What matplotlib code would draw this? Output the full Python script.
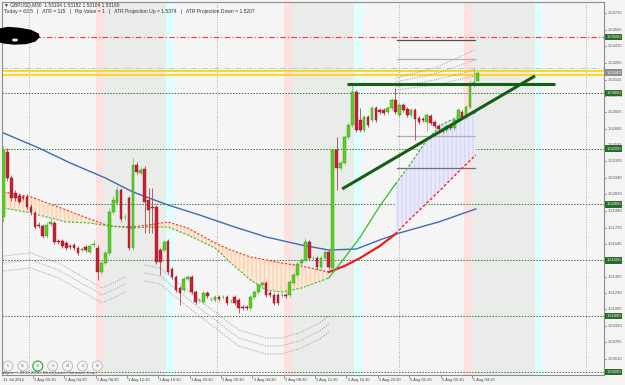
import matplotlib
matplotlib.use("Agg")
import matplotlib.pyplot as plt
import matplotlib.transforms as mtransforms
from matplotlib.patches import Polygon, Ellipse
import numpy as np

plt.rcParams['font.family'] = ['Liberation Sans', 'DejaVu Sans']

# ---- M30 candles, bar 0 is the leftmost one ----
opens = [1.51888, 1.52470, 1.52237, 1.52103, 1.52076, 1.52067, 1.52067, 1.51977, 1.51924, 1.51816,
         1.51807, 1.51718, 1.51825, 1.51834, 1.51673, 1.51673, 1.51655, 1.51628, 1.51637, 1.51610,
         1.51592, 1.51619, 1.51574, 1.51637, 1.51610, 1.51395, 1.51476, 1.51565, 1.51933, 1.52013,
         1.52130, 1.51888, 1.52058, 1.51610, 1.52354, 1.52282, 1.52318, 1.52040, 1.51977, 1.51977,
         1.51592, 1.51592, 1.51673, 1.51422, 1.51351, 1.51252, 1.51234, 1.51333, 1.51351, 1.51216,
         1.51145, 1.51127, 1.51207, 1.51154, 1.51145, 1.51171, 1.51171, 1.51171, 1.51136, 1.51171,
         1.51145, 1.51082, 1.51082, 1.51073, 1.51171, 1.51216, 1.51279, 1.51297, 1.51207, 1.51189,
         1.51189, 1.51189, 1.51189, 1.51189, 1.51297, 1.51368, 1.51476, 1.51503, 1.51664, 1.51521,
         1.51521, 1.51440, 1.51521, 1.51574, 1.51431, 1.52488, 1.52327, 1.52372, 1.52604, 1.52712,
         1.53007, 1.52757, 1.52667, 1.52784, 1.52757, 1.52864, 1.52846, 1.52846, 1.52828, 1.52864,
         1.52936, 1.52801, 1.52891, 1.52855, 1.52801, 1.52846, 1.52775, 1.52766, 1.52739, 1.52792,
         1.52739, 1.52703, 1.52676, 1.52667, 1.52703, 1.52685, 1.52757, 1.52828, 1.52784, 1.52873,
         1.53070, 1.53104]
closes = [1.52488, 1.52237, 1.52058, 1.52058, 1.52022, 1.52058, 1.51977, 1.51933, 1.51798, 1.51807,
          1.51718, 1.51816, 1.51843, 1.51664, 1.51664, 1.51628, 1.51610, 1.51619, 1.51610, 1.51565,
          1.51601, 1.51592, 1.51628, 1.51646, 1.51395, 1.51476, 1.51565, 1.51933, 1.52040, 1.52130,
          1.51870, 1.51888, 1.51610, 1.52354, 1.52291, 1.52309, 1.52022, 1.51951, 1.51969, 1.51485,
          1.51485, 1.51664, 1.51395, 1.51351, 1.51234, 1.51207, 1.51333, 1.51351, 1.51216, 1.51127,
          1.51145, 1.51207, 1.51180, 1.51154, 1.51171, 1.51154, 1.51171, 1.51118, 1.51136, 1.51118,
          1.51073, 1.51073, 1.51073, 1.51171, 1.51216, 1.51279, 1.51297, 1.51189, 1.51189, 1.51118,
          1.51118, 1.51189, 1.51180, 1.51306, 1.51368, 1.51467, 1.51503, 1.51664, 1.51521, 1.51521,
          1.51440, 1.51521, 1.51574, 1.51440, 1.52488, 1.52327, 1.52372, 1.52604, 1.52712, 1.53007,
          1.52667, 1.52667, 1.52784, 1.52712, 1.52864, 1.52757, 1.52828, 1.52819, 1.52864, 1.52936,
          1.52828, 1.52891, 1.52846, 1.52801, 1.52846, 1.52766, 1.52739, 1.52757, 1.52801, 1.52730,
          1.52703, 1.52676, 1.52658, 1.52703, 1.52685, 1.52757, 1.52846, 1.52784, 1.52873, 1.53070,
          1.53097, 1.53180]
highs = [1.52524, 1.52506, 1.52264, 1.52130, 1.52103, 1.52085, 1.52094, 1.52004, 1.51942, 1.51843,
         1.51825, 1.51843, 1.51879, 1.51852, 1.51691, 1.51691, 1.51673, 1.51646, 1.51655, 1.51628,
         1.51619, 1.51637, 1.51646, 1.51682, 1.51637, 1.51494, 1.51592, 1.51969, 1.52076, 1.52166,
         1.52148, 1.51915, 1.52076, 1.52416, 1.52381, 1.52336, 1.52345, 1.52148, 1.52148, 1.51995,
         1.51610, 1.51682, 1.51691, 1.51440, 1.51368, 1.51270, 1.51351, 1.51368, 1.51368, 1.51234,
         1.51162, 1.51225, 1.51225, 1.51171, 1.51189, 1.51189, 1.51189, 1.51189, 1.51154, 1.51189,
         1.51162, 1.51100, 1.51100, 1.51189, 1.51234, 1.51297, 1.51315, 1.51315, 1.51225, 1.51207,
         1.51207, 1.51207, 1.51207, 1.51324, 1.51386, 1.51485, 1.51521, 1.51700, 1.51682, 1.51539,
         1.51539, 1.51539, 1.51592, 1.51592, 1.52506, 1.52604, 1.52389, 1.52622, 1.52730, 1.53070,
         1.53025, 1.52864, 1.52801, 1.52801, 1.52882, 1.52882, 1.52864, 1.52864, 1.52882, 1.52954,
         1.53043, 1.52909, 1.52909, 1.52873, 1.52864, 1.52864, 1.52792, 1.52784, 1.52819, 1.52810,
         1.52757, 1.52721, 1.52694, 1.52721, 1.52721, 1.52775, 1.52864, 1.52846, 1.52891, 1.53115,
         1.53222, 1.53182]
lows = [1.51843, 1.52210, 1.52031, 1.52031, 1.52004, 1.52040, 1.51960, 1.51906, 1.51780, 1.51789,
        1.51700, 1.51700, 1.51807, 1.51646, 1.51646, 1.51610, 1.51592, 1.51601, 1.51592, 1.51548,
        1.51574, 1.51574, 1.51556, 1.51619, 1.51324, 1.51377, 1.51458, 1.51548, 1.51915, 1.51995,
        1.51852, 1.51861, 1.51592, 1.51592, 1.52273, 1.52264, 1.51745, 1.51745, 1.51745, 1.51467,
        1.51368, 1.51574, 1.51377, 1.51333, 1.51216, 1.51100, 1.51216, 1.51315, 1.51198, 1.51109,
        1.51127, 1.51109, 1.51162, 1.51136, 1.51127, 1.51136, 1.51154, 1.51100, 1.51118, 1.51100,
        1.51028, 1.51055, 1.51055, 1.51055, 1.51154, 1.51198, 1.51261, 1.51171, 1.51171, 1.51100,
        1.51100, 1.51171, 1.51162, 1.51171, 1.51279, 1.51351, 1.51458, 1.51485, 1.51503, 1.51503,
        1.51422, 1.51422, 1.51503, 1.51422, 1.51413, 1.52130, 1.52309, 1.52354, 1.52587, 1.52694,
        1.52649, 1.52649, 1.52649, 1.52694, 1.52739, 1.52739, 1.52810, 1.52801, 1.52810, 1.52846,
        1.52810, 1.52784, 1.52828, 1.52784, 1.52784, 1.52578, 1.52721, 1.52739, 1.52658, 1.52712,
        1.52685, 1.52658, 1.52640, 1.52649, 1.52667, 1.52667, 1.52739, 1.52766, 1.52766, 1.52855,
        1.53052, 1.53104]

# ---- indicators (read at a few bars, joined by straight segments) ----
ma_bars = [0, 9, 17, 26, 33, 42, 50, 59, 67, 76, 83, 90, 96, 101, 111, 120.5]
ma_long = [1.52640, 1.52506, 1.52372, 1.52237, 1.52112, 1.51995, 1.51906, 1.51798, 1.51709, 1.51637,
           1.51592, 1.51601, 1.51682, 1.51745, 1.51843, 1.51960]

cloud_bars = [0, 7, 16, 22, 27, 33, 37, 42, 47, 54, 58, 63, 67, 71, 76, 83, 87, 91, 96, 100,
              104, 108, 112, 116, 120.5]
slow_line = [1.52112, 1.52067, 1.51951, 1.51870, 1.51807, 1.51798, 1.51816, 1.51843, 1.51789, 1.51655,
             1.51592, 1.51530, 1.51503, 1.51476, 1.51449, 1.51395, 1.51449, 1.51521, 1.51628, 1.51736,
             1.51879, 1.52013, 1.52148, 1.52291, 1.52443]
fast_line = [1.51969, 1.51924, 1.51843, 1.51834, 1.51807, 1.51789, 1.51798, 1.51798, 1.51727, 1.51610,
             1.51476, 1.51324, 1.51234, 1.51216, 1.51252, 1.51342, 1.51521, 1.51709, 1.51986, 1.52183,
             1.52372, 1.52578, 1.52721, 1.52784, 1.52819]

band1_bars = [0, 7, 14, 23, 25, 28, 31]
band1 = [[1.51539, 1.51565, 1.51476, 1.51297, 1.51252, 1.51297, 1.51351],
         [1.51476, 1.51503, 1.51413, 1.51234, 1.51189, 1.51234, 1.51288],
         [1.51404, 1.51431, 1.51342, 1.51162, 1.51118, 1.51162, 1.51216]]
band2_bars = [36, 40, 43, 50, 55, 60, 67, 71, 76, 81, 83]
band2 = [[1.51458, 1.51431, 1.51342, 1.51145, 1.51010, 1.50876, 1.50804, 1.50804, 1.50858, 1.50948, 1.51001],
         [1.51386, 1.51360, 1.51270, 1.51073, 1.50939, 1.50804, 1.50733, 1.50733, 1.50786, 1.50876, 1.50930],
         [1.51315, 1.51288, 1.51198, 1.51001, 1.50867, 1.50733, 1.50661, 1.50661, 1.50715, 1.50804, 1.50858]]
band3_bars = [100, 110, 120.3]
band3 = [[1.53133, 1.53222, 1.53384],
         [1.53097, 1.53169, 1.53294],
         [1.53052, 1.53115, 1.53204],
         [1.53025, 1.53070, 1.53151]]

atr_levels = [1.53473, 1.53303, 1.52613, 1.52327]
atr_span = [100.4, 120.3]

round_levels = [1.53000, 1.52500, 1.52000, 1.51500, 1.51000, 1.50500]
box_levels = [1.53500, 1.53000, 1.52500, 1.52000, 1.51500, 1.51000, 1.50500]
red_level = 1.53500
pale_level = 1.53222
yellow_levels = [1.53197, 1.53163]
last_price = 1.53180

trend_h_bars, trend_h = [87.6, 140.7], [1.53079, 1.53079]
trend_d_bars, trend_d = [86.4, 135.6], [1.52139, 1.53151]

# sessions, in bar units
pink_zones = [(23.5, 25.5), (71.5, 73.5), (117.5, 119.5)]
green_zones = [(25.5, 41.5), (73.5, 89.5), (119.5, 135.5)]
cyan_zones = [(41.5, 43.5), (89.5, 91.5), (135.5, 137.5)]
grid_bars = [6.5, 54.5, 101, 148.5]

price_ticks = [1.53715, 1.53565, 1.53415, 1.53265, 1.53115, 1.52970, 1.52825, 1.52680, 1.52535,
               1.52390, 1.52240, 1.52090, 1.51940, 1.51790, 1.51645, 1.51355, 1.51210, 1.51065,
               1.50915, 1.50765, 1.50615]
time_bars = [8, 16, 24, 32, 40, 48, 56, 64, 72, 80, 88, 96, 104, 112, 120]
time_labels = ["1 Aug 00:30", "1 Aug 04:30", "1 Aug 08:30", "1 Aug 12:30", "1 Aug 16:30",
               "1 Aug 20:30", "2 Aug 00:30", "2 Aug 04:30", "2 Aug 08:30", "2 Aug 12:30",
               "2 Aug 16:30", "2 Aug 20:30", "5 Aug 01:30", "5 Aug 05:30", "5 Aug 09:30"]
periods = ["5", "15", "30", "H", "H4", "D", "W"]

W, H = 625, 385
fig = plt.figure(figsize=(W / 100, H / 100), dpi=100, facecolor='#f4f4f4')
ax = fig.add_axes([2 / W, 10 / H, 602 / W, 373 / H])
ax.set_facecolor('#f5f5f5')
ax.set_xlim(-0.38, 153.2)
ax.set_ylim(1.50473, 1.53813)
ax.set_xticks([])
ax.set_yticks([])
for s in ax.spines.values():
    s.set_color('#8c8c8c')
    s.set_linewidth(0.8)

for a, b in pink_zones:
    ax.axvspan(a, b, color='#ffe0e0', lw=0, zorder=0)
for a, b in green_zones:
    ax.axvspan(a, b, color='#e9ece9', lw=0, zorder=0)
for a, b in cyan_zones:
    ax.axvspan(a, b, color='#e0ffff', lw=0, zorder=0)
for g in grid_bars:
    ax.axvline(g, color='#8f8f8f', lw=0.6, ls=(0, (1, 2)), zorder=1)

for lv in round_levels:
    ax.axhline(lv, color='#2f7a2f', lw=0.7, ls=(0, (1.5, 1.5)), zorder=1)
ax.axhline(red_level, color='#ff3333', lw=0.8, ls=(0, (5, 2, 1, 2)), zorder=2)
ax.axhline(pale_level, color='#a8dca8', lw=0.8, ls=(0, (5, 2, 1, 2)), zorder=2)
for lv in yellow_levels:
    ax.axhline(lv, color='#ffd21a', lw=1.3, zorder=2)

# cloud between the two averages
cb = np.array(cloud_bars)
sl = np.array(slow_line)
fl = np.array(fast_line)
ax.fill_between(cb[:16], sl[:16], fl[:16], where=sl[:16] >= fl[:16], interpolate=True,
                facecolor='#fde9d8', edgecolor='#fad3ae', hatch='||||', lw=0, zorder=1)
ax.fill_between(cb[19:], fl[19:], sl[19:], facecolor='#e9e9fb', edgecolor='#d6d6f5',
                hatch='||||', lw=0, zorder=1)

ax.plot(ma_bars, ma_long, color='#3a6eb4', lw=1.0, zorder=3)
ax.plot(cb[:16], sl[:16], color='#ff2a2a', lw=0.8, ls=(0, (2, 1.5)), zorder=3)
ax.plot(cb[15:20], sl[15:20], color='#ee1c1c', lw=1.6, zorder=3)
ax.plot(cb[19:], sl[19:], color='#ff2020', lw=1.0, ls=(0, (2, 1.5)), zorder=3)
ax.plot(cb[:16], fl[:16], color='#33bb33', lw=0.8, ls=(0, (2, 1.5)), zorder=3)
ax.plot(cb[15:20], fl[15:20], color='#2fbf2f', lw=0.9, zorder=3)
ax.plot(cb[19:], fl[19:], color='#2fbf2f', lw=0.9, ls=(0, (2, 1.5)), zorder=3)

for bars, group in ((band1_bars, band1), (band2_bars, band2), (band3_bars, band3)):
    for curve in group:
        ax.plot(bars, curve, color='#9a9a9a', lw=0.7, ls=(0, (1, 1.5)), zorder=2)

atr_colors = ['#505050', '#b0b0b0', '#b0b0b0', '#707070']
for lv, col in zip(atr_levels, atr_colors):
    ax.plot(atr_span, [lv, lv], color=col, lw=0.9, zorder=2)

# candles
x = np.arange(len(closes))
o = np.array(opens)
c = np.array(closes)
up = c >= o
body_col = np.where(up, '#5ed11e', '#cc1f33')
edge_col = np.where(up, '#2b8a1c', '#8c1420')
wick_col = np.where(up, '#7fbf6a', '#b04050')
ax.vlines(x, lows, highs, colors=wick_col, lw=0.6, zorder=4)
ax.bar(x, np.maximum(np.abs(c - o), 0.00004), bottom=np.minimum(o, c), width=0.68,
       color=body_col, edgecolor=edge_col, lw=0.3, zorder=5)

ax.plot(trend_h_bars, trend_h, color='#155e15', lw=2.2, solid_capstyle='butt', zorder=6)
ax.plot(trend_d_bars, trend_d, color='#155e15', lw=2.2, solid_capstyle='butt', zorder=6)

# price scale
ty = mtransforms.blended_transform_factory(ax.transAxes, ax.transData)
for p in price_ticks:
    ax.plot([1.0, 1.004], [p, p], color='#777777', lw=0.5, transform=ty, clip_on=False)
    ax.text(1.007, p, f"{p:.5f}", transform=ty, fontsize=3, va='center', ha='left', color='#555555')
for p in box_levels:
    ax.text(1.004, p, f"{p:.5f}", transform=ty, fontsize=3, va='center', ha='left', color='white',
            bbox=dict(boxstyle='square,pad=0.3', fc='#2a6a2a', ec='none'))
ax.text(1.004, last_price, f"{last_price:.5f}", transform=ty, fontsize=3, va='center', ha='left',
        color='white', bbox=dict(boxstyle='square,pad=0.3', fc='#8e8e8e', ec='none'))

# time scale
tx = mtransforms.blended_transform_factory(ax.transData, ax.transAxes)
ax.text(0.002, -0.008, "31 Jul 2015", transform=ax.transAxes, fontsize=3, va='top', ha='left',
        color='#444444')
for b, lab in zip(time_bars, time_labels):
    ax.plot([b - 0.5, b - 0.5], [0, -0.008], color='#777777', lw=0.5, transform=tx, clip_on=False)
    ax.text(b - 0.2, -0.008, lab, transform=tx, fontsize=3, va='top', ha='left', color='#444444')

# header
fig.text(4 / W, 1 - 5 / H, "\u25bc GBPUSD,M30  1.53104 1.53182 1.53104 1.53180", fontsize=3.5,
         va='center', ha='left', color='#333333')
fig.text(4 / W, 1 - 11.5 / H, "Today = 63.5   |   ATR = 115   |   Pip Value = 1   |   "
         "ATR Projection Up = 1.5374   |   ATR Projection Down = 1.5207",
         fontsize=3.6, va='center', ha='left', color='#333333')

# blacked-out patch at top left
blob = [(0, 29), (8, 27.5), (20, 28.5), (31, 30.5), (38, 34), (39, 37), (35, 41), (26, 43.5),
        (14, 44), (5, 43), (0, 42)]
fig.add_artist(Polygon([(px / W, 1 - py / H) for px, py in blob], closed=True, fc='black', ec='black'))
fig.add_artist(Ellipse((15 / W, 1 - 40 / H), 6 / W, 3 / H, fc='#f0f0f0', ec='none'))

# timeframe buttons
for k, lab in enumerate(periods):
    cx = (8 + 14.9 * k) / W
    cy = 1 - 366 / H
    ec = '#22aa22' if lab == "30" else '#a8a8a8'
    fig.add_artist(Ellipse((cx, cy), 10 / W, 10 / H, fc='#f4f4f4', ec=ec, lw=0.8 if lab == "30" else 0.5))
    fig.text(cx, cy, lab, fontsize=2.4, ha='center', va='center', color='#4f7f9f')
fig.text(3 / W, 1 - 373 / H, "Alpari \u00a9 2001-2015, MetaQuotes Software Corp.", fontsize=3.2,
         ha='left', va='center', color='#555555')

fig.savefig("out.png", dpi=100, facecolor=fig.get_facecolor())
